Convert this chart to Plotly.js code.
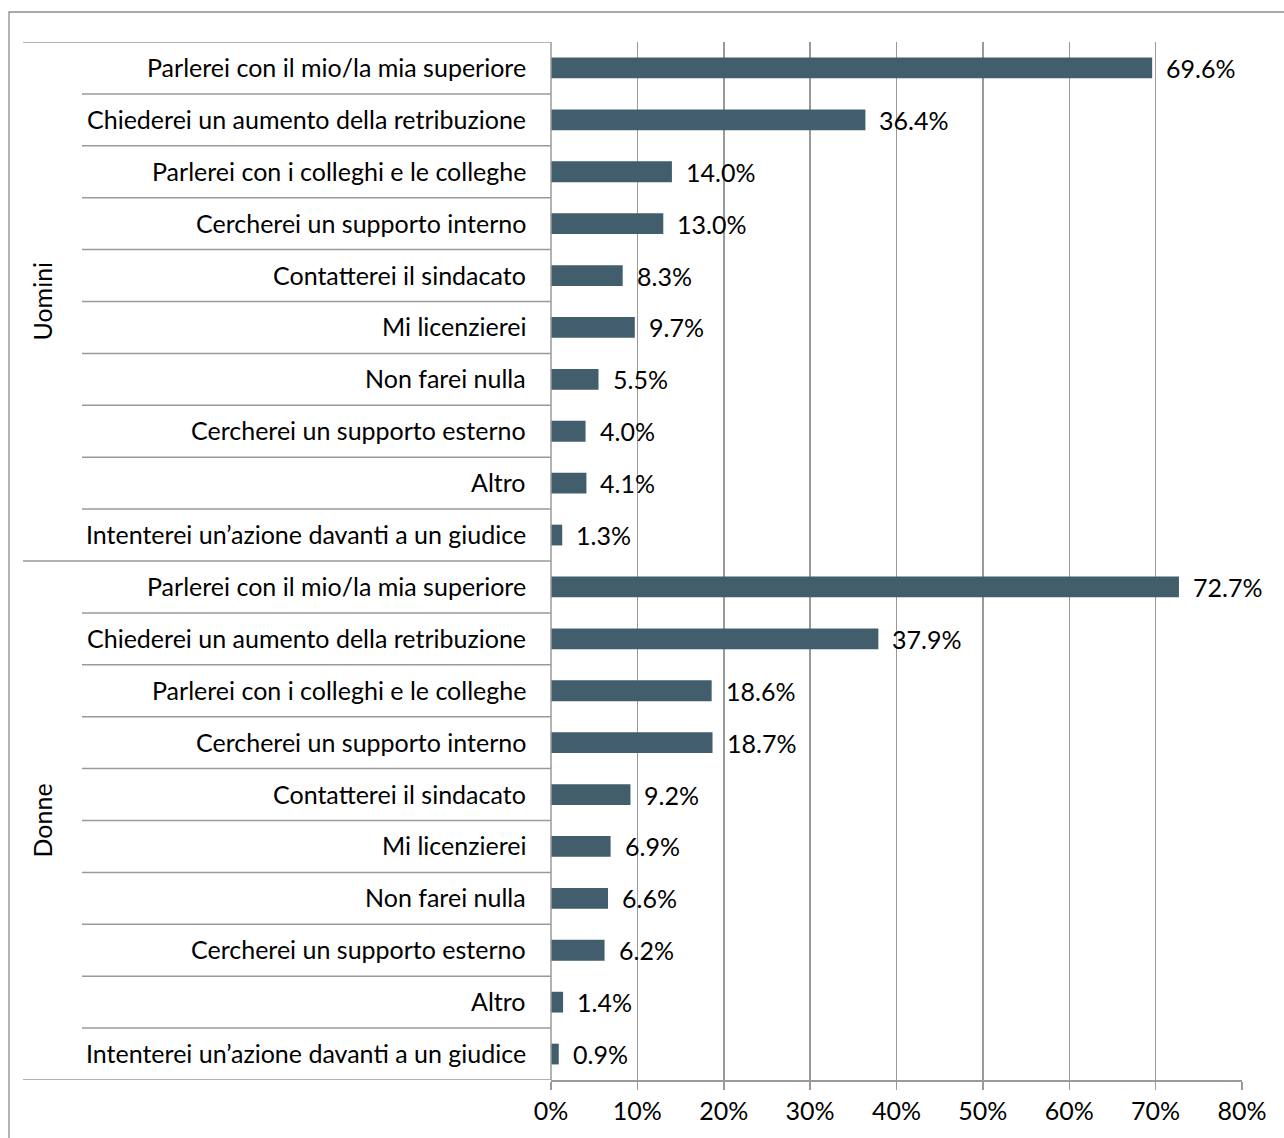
<!DOCTYPE html>
<html>
<head>
<meta charset="utf-8">
<script src="https://cdn.plot.ly/plotly-3.0.1.min.js"></script>
<style>html,body{margin:0;padding:0;background:#fff;}#chart{width:1284px;height:1138px;}</style>
</head>
<body>
<div id="chart"></div>
<script>
const groups = ["Uomini", "Donne"];
const categories = [
  "Parlerei con il mio/la mia superiore",
  "Chiederei un aumento della retribuzione",
  "Parlerei con i colleghi e le colleghe",
  "Cercherei un supporto interno",
  "Contatterei il sindacato",
  "Mi licenzierei",
  "Non farei nulla",
  "Cercherei un supporto esterno",
  "Altro",
  "Intenterei un’azione davanti a un giudice"
];
const uominiValues = [69.6, 36.4, 14.0, 13.0, 8.3, 9.7, 5.5, 4.0, 4.1, 1.3];
const donneValues  = [72.7, 37.9, 18.6, 18.7, 9.2, 6.9, 6.6, 6.2, 1.4, 0.9];
const xTickVals = [0, 10, 20, 30, 40, 50, 60, 70, 80];
const xTickText = ["0%", "10%", "20%", "30%", "40%", "50%", "60%", "70%", "80%"];

const FONT = "Lato, 'Open Sans', sans-serif";
const FS = 25;
const BAR = "#425e6c";
const LINE = "#9a9a9a";

const seriesByGroup = [uominiValues, donneValues];
const yPos = [], xVals = [], labels = [];
seriesByGroup.forEach((vals, g) => {
  vals.forEach((v, i) => {
    yPos.push(g * categories.length + i);
    xVals.push(v);
    labels.push(categories[i]);
  });
});

const n = yPos.length;
const shapes = [];
// outer border
shapes.push({type:"rect", xref:"paper", yref:"paper", x0:(9-551)/691, x1:1.2, y0:-0.2, y1:(1080-12)/1038,
  line:{color:"#8c8c8c", width:1.3}, fillcolor:"rgba(0,0,0,0)", layer:"below"});
// row separators
for (let k = 0; k <= n; k++) {
  const isGroupEdge = (k % categories.length === 0);
  shapes.push({type:"line", xref:"paper", yref:"y",
    x0: isGroupEdge ? (23-551)/691 : (82-551)/691, x1: 0,
    y0: k - 0.5, y1: k - 0.5, line:{color:LINE, width:1.5}});
}
// left axis line
shapes.push({type:"line", xref:"paper", yref:"y", x0:0, x1:0, y0:-0.5, y1:n-0.5, line:{color:LINE, width:1.5}});

const annotations = [];
// category labels and value labels
yPos.forEach((y, i) => {
  annotations.push({x:0, xref:"paper", y:y, yref:"y", text:labels[i], showarrow:false,
    xanchor:"right", xshift:-23, yshift:1, font:{family:FONT, size:FS, color:"#000"}});
  annotations.push({x:xVals[i], xref:"x", y:y, yref:"y", text:xVals[i].toFixed(1) + "%", showarrow:false,
    xanchor:"left", xshift:12, font:{family:FONT, size:FS, color:"#000"}});
});
// group labels
groups.forEach((g, gi) => {
  annotations.push({x:(41-551)/691, xref:"paper", y:gi*categories.length + (categories.length-1)/2, yref:"y",
    text:g, textangle:-90, showarrow:false, xanchor:"center", yanchor:"middle",
    font:{family:FONT, size:FS, color:"#000"}});
});

const trace = {
  type:"bar", orientation:"h", x:xVals, y:yPos, width:0.4,
  marker:{color:BAR, line:{width:0}}, hoverinfo:"skip", cliponaxis:false
};

const layout = {
  width:1284, height:1138,
  margin:{l:551, r:42, t:42, b:58},
  paper_bgcolor:"#fff", plot_bgcolor:"#fff",
  showlegend:false,
  font:{family:FONT, size:FS, color:"#000"},
  xaxis:{range:[0,80], tickvals:xTickVals, ticktext:xTickText, showgrid:true, gridcolor:LINE, gridwidth:1.5,
    zeroline:false, showline:true, linecolor:LINE, linewidth:1.5, ticks:"outside", ticklen:8, tickcolor:LINE, tickwidth:1.5,
    tickfont:{family:FONT, size:FS, color:"#000"}, fixedrange:true},
  yaxis:{range:[n-0.5, -0.5], showticklabels:false, showgrid:false, zeroline:false, showline:false, ticks:"", fixedrange:true},
  shapes:shapes, annotations:annotations
};

Plotly.newPlot("chart", [trace], layout, {displayModeBar:false, staticPlot:true});
</script>
</body>
</html>
